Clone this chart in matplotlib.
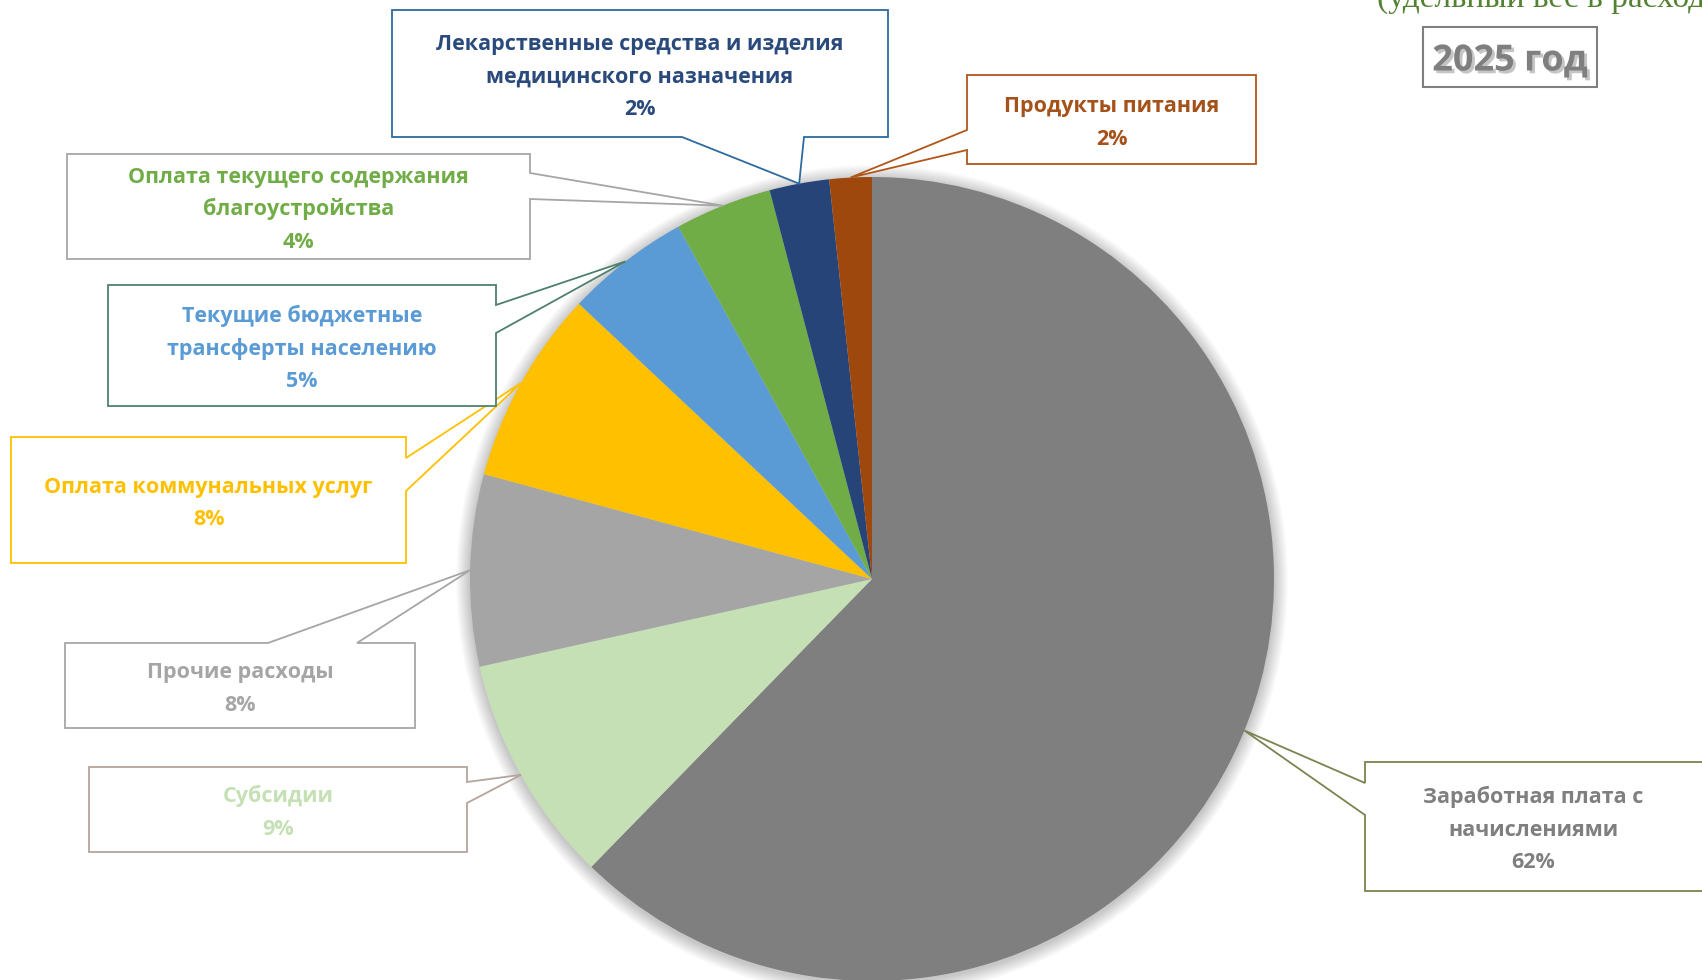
import matplotlib
matplotlib.use("Agg")
import matplotlib.pyplot as plt
import matplotlib.patheffects as pe
from matplotlib.patches import Polygon, Circle, Rectangle
import numpy as np

plt.rcParams['font.family'] = ['Open Sans', 'DejaVu Sans']

# ---------------- data ----------------
categories = [
    "Заработная плата с\nначислениями",
    "Субсидии",
    "Прочие расходы",
    "Оплата коммунальных услуг",
    "Текущие бюджетные\nтрансферты населению",
    "Оплата текущего содержания\nблагоустройства",
    "Лекарственные средства и изделия\nмедицинского назначения",
    "Продукты питания",
]
values = [62.3, 9.2, 7.7, 7.8, 5.0, 3.9, 2.4, 1.7]
slice_colors = ["#7F7F7F", "#C5E0B4", "#A5A5A5", "#FFC000",
                "#5B9BD5", "#70AD47", "#264478", "#9E480E"]
text_colors = ["#7F7F7F", "#C5E0B4", "#A5A5A5", "#FFC000",
               "#5B9BD5", "#70AD47", "#2B4A7C", "#A5511A"]
border_colors = ["#7B8350", "#B5A49C", "#A6A6A6", "#FFC000",
                 "#4E806E", "#A6A6A6", "#2E6A9E", "#B0561A"]
year_label = "2025 год"
subtitle = "(удельный вес в расходах бюджета)"

# ---------------- layout (pixels, y downward) ----------------
W, H = 1702, 980
CX, CY, RAD = 872, 579, 402
# (left, top, right, bottom, side of pointer, base1, base2)
boxes = [
    (1365, 762, 1704, 891, "left", 783, 815),
    (89, 767, 467, 852, "right", 782, 803),
    (65, 643, 415, 728, "top", 268, 357),
    (11, 437, 406, 563, "right", 458, 491),
    (108, 285, 496, 406, "right", 305, 333),
    (67, 154, 530, 259, "right", 173, 199),
    (392, 10, 888, 137, "bottom", 682, 804),
    (967, 75, 1256, 164, "left", 130, 150),
]

def Y(y):
    return H - y

fig = plt.figure(figsize=(W / 100, H / 100), dpi=100)
ax = fig.add_axes([0, 0, 1, 1])

# soft shadow around the pie
for k in range(14, 0, -1):
    ax.add_patch(Circle((CX, Y(CY) - 2), RAD + k, facecolor="black",
                        edgecolor="none", alpha=0.016, zorder=0.5))

wedges, _ = ax.pie(values, colors=slice_colors, startangle=90,
                   counterclock=False, center=(CX, Y(CY)), radius=RAD,
                   wedgeprops=dict(linewidth=0))
for w in wedges:
    w.set_zorder(1)

ax.set_xlim(0, W)
ax.set_ylim(0, H)
ax.set_aspect("equal")
ax.axis("off")

FS = 15.5
LS = 32.5
for i, (w, (L, T, R, B, side, a1, a2)) in enumerate(zip(wedges, boxes)):
    mid = np.deg2rad((w.theta1 + w.theta2) / 2)
    tx = CX + RAD * np.cos(mid)
    ty = CY - RAD * np.sin(mid)   # pixel coords
    tip = (tx, ty)
    if side == "bottom":
        pts = [(L, T), (R, T), (R, B), (a2, B), tip, (a1, B), (L, B)]
    elif side == "top":
        pts = [(L, T), (a1, T), tip, (a2, T), (R, T), (R, B), (L, B)]
    elif side == "right":
        pts = [(L, T), (R, T), (R, a1), tip, (R, a2), (R, B), (L, B)]
    else:
        pts = [(L, T), (R, T), (R, B), (L, B), (L, a2), tip, (L, a1)]
    pts = [(x, Y(y)) for x, y in pts]
    ax.add_patch(Polygon(pts, closed=True, facecolor="white",
                         edgecolor=border_colors[i], linewidth=1.3,
                         joinstyle="miter", zorder=3))
    label = categories[i] + "\n" + f"{round(values[i])}%"
    lines = label.split("\n")
    n = len(lines)
    cxb = (L + min(R, 1701)) / 2
    cyb = (T + B) / 2
    for j, line in enumerate(lines):
        base = cyb + (j - (n - 1) / 2) * LS + 9
        ax.text(cxb, Y(base), line, ha="center", va="baseline",
                fontsize=FS, fontweight="bold", color=text_colors[i],
                zorder=4)

# year box
ax.add_patch(Rectangle((1423, Y(87)), 1597 - 1423, 87 - 27,
                       facecolor="white", edgecolor="#7F7F7F",
                       linewidth=1.5, zorder=3))
ax.text(1510, Y(57), year_label, ha="center", va="center_baseline",
        fontsize=26, fontweight="bold", color="#7F7F7F", zorder=4,
        path_effects=[pe.withSimplePatchShadow(offset=(2, -2),
                                               shadow_rgbFace="#404040",
                                               alpha=0.3)])

# cut-off subtitle at the top right
ax.text(1377, Y(7), subtitle, ha="left", va="baseline",
        fontsize=24, family=["Liberation Serif", "DejaVu Serif"],
        color="#548235", zorder=4)

fig.savefig("out.png", dpi=100)
